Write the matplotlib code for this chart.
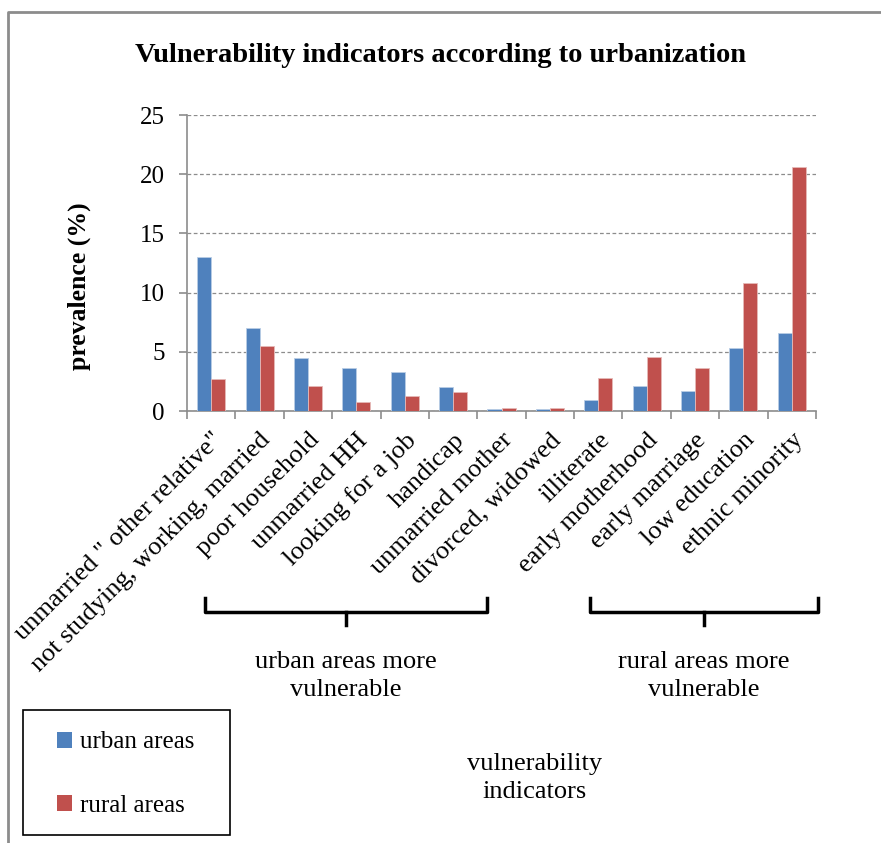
import numpy as np
import matplotlib.pyplot as plt
from matplotlib.lines import Line2D
from matplotlib.patches import Patch, Rectangle

plt.rcParams['font.family'] = 'Liberation Serif'

categories = ['unmarried " other relative"', 'not studying, working, married',
              'poor household', 'unmarried HH', 'looking for a job', 'handicap',
              'unmarried mother', 'divorced, widowed', 'illiterate',
              'early motherhood', 'early marriage', 'low education',
              'ethnic minority']
urban = [13.0, 7.0, 4.5, 3.6, 3.3, 2.0, 0.15, 0.15, 0.9, 2.1, 1.7, 5.3, 6.6]
rural = [2.7, 5.5, 2.1, 0.8, 1.3, 1.6, 0.25, 0.25, 2.8, 4.6, 3.6, 10.8, 20.6]

W, H = 881, 843
fig = plt.figure(figsize=(W / 100, H / 100), dpi=100)

def fx(px):
    return px / W

def fy(py):
    return 1 - py / H

ax = fig.add_axes([fx(187), fy(411), fx(816) - fx(187), fy(115) - fy(411)])

x = np.arange(len(categories))
bw = 0.29
ax.bar(x - bw / 2, urban, bw, color='#4F81BD', edgecolor='#B9CDE5', linewidth=0.6,
       label='urban areas', zorder=3)
ax.bar(x + bw / 2, rural, bw, color='#C0504D', edgecolor='#E6B9B8', linewidth=0.6,
       label='rural areas', zorder=3)

ax.set_xlim(-0.5, len(categories) - 0.5)
ax.set_ylim(0, 25)
ax.set_yticks([0, 5, 10, 15, 20, 25])
ax.yaxis.grid(True, linestyle=(0, (3, 2)), color='#8c8c8c', linewidth=0.9)
ax.set_axisbelow(True)

for s in ['top', 'right']:
    ax.spines[s].set_visible(False)
for s in ['left', 'bottom']:
    ax.spines[s].set_color('#8c8c8c')
    ax.spines[s].set_linewidth(1.2)

# ticks between groups, labels centred on the groups
ax.set_xticks(np.arange(-0.5, len(categories), 1.0))
ax.set_xticklabels([])
ax.set_xticks(x, minor=True)
ax.set_xticklabels(categories, minor=True, rotation=45, ha='right',
                   rotation_mode='anchor', fontsize=19)
ax.tick_params(axis='x', which='minor', length=0, pad=13)
ax.tick_params(axis='x', which='major', length=6, color='#8c8c8c', width=1.2)
ax.tick_params(axis='y', length=6, color='#8c8c8c', width=1.2, labelsize=18, pad=10)

ax.set_ylabel('prevalence (%)', fontsize=18.5, fontweight='bold')
ax.yaxis.set_label_coords(-0.152, 0.42)

fig.text(0.5, fy(55), 'Vulnerability indicators according to urbanization',
         ha='center', va='center', fontsize=20.5, fontweight='bold')

# outer frame
fig.add_artist(Line2D([fx(8), fx(8), 1.0], [0.0, fy(12), fy(12)],
                      color='#8c8c8c', linewidth=2, transform=fig.transFigure))

# group brackets
def bracket(x0, x1):
    xm = (x0 + x1) / 2
    fig.add_artist(Line2D([fx(x0), fx(x0), fx(x1), fx(x1)],
                          [fy(598), fy(612), fy(612), fy(598)],
                          color='black', linewidth=2.5, transform=fig.transFigure))
    fig.add_artist(Line2D([fx(xm), fx(xm)], [fy(612), fy(625)],
                          color='black', linewidth=2.5, transform=fig.transFigure))

bracket(205, 487)
bracket(590, 818)

fig.text(fx(346), fy(676), 'urban areas more\nvulnerable', ha='center', va='center',
         fontsize=19, linespacing=1.35)
fig.text(fx(704), fy(676), 'rural areas more\nvulnerable', ha='center', va='center',
         fontsize=19, linespacing=1.35)
fig.text(fx(535), fy(778), 'vulnerability\nindicators', ha='center', va='center',
         fontsize=19, linespacing=1.35)

# legend box
fig.add_artist(Rectangle((fx(23), fy(835)), fx(230) - fx(23), fy(710) - fy(835),
                         transform=fig.transFigure, facecolor='white',
                         edgecolor='black', linewidth=1.2))
handles = [Patch(facecolor='#4F81BD', label='urban areas'),
           Patch(facecolor='#C0504D', label='rural areas')]
leg = fig.legend(handles=handles, loc='center left',
                 bbox_to_anchor=(fx(57), fy(774)), fontsize=18, frameon=False,
                 handlelength=0.6, handleheight=0.6, handletextpad=0.3,
                 labelspacing=1.65, borderpad=0, borderaxespad=0)

fig.savefig('out.png', dpi=100)
